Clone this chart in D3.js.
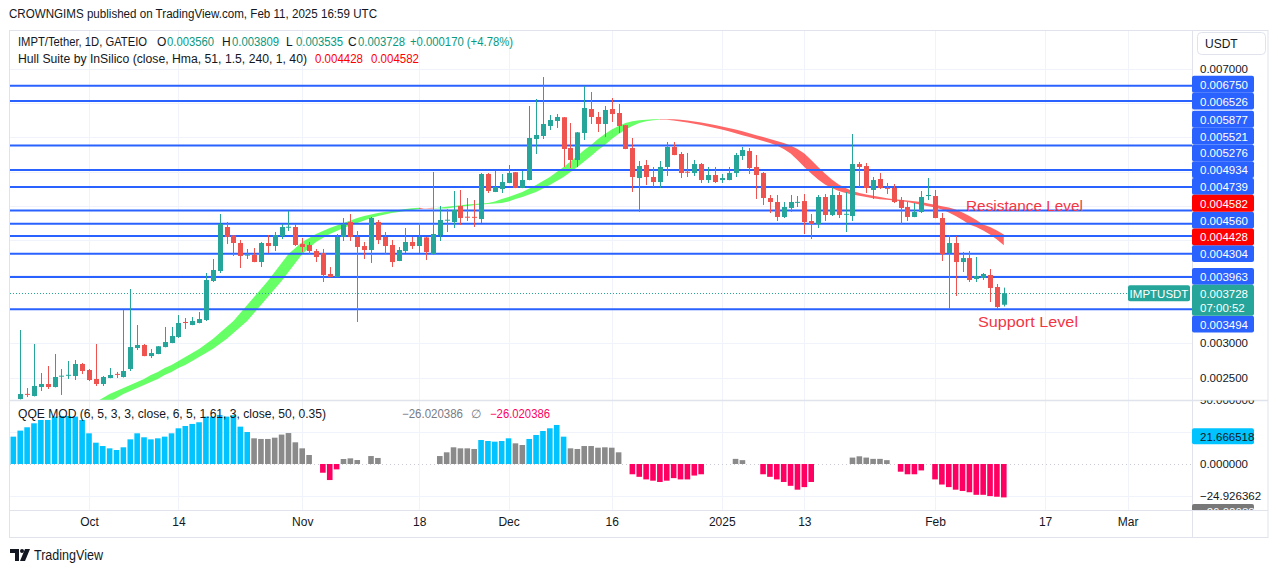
<!DOCTYPE html>
<html><head><meta charset="utf-8">
<script src="https://cdn.jsdelivr.net/npm/d3@7"></script>
<style>
body{margin:0;background:#fff;}
text{font-family:"Liberation Sans",Arial,sans-serif;}
</style></head><body>
<svg id="c" width="1281" height="573"></svg>
<script>
// ---------------- DATA ----------------
const candleStart = "2024-09-21";
const open = [.002187,.002262,.002231,.002362,.002406,.002362,.002522,.002535,.002522,.002697,.002610,.002479,.002406,.002493,.002553,.002508,.002624,.002930,.002974,.002813,.002843,.002944,.003003,.003090,.003309,.003265,.003294,.003338,.003906,.004051,.004692,.004570,.004459,.004280,.004284,.004182,.004459,.004415,.004561,.004688,.004692,.004444,.004430,.004342,.004313,.004008,.003964,.004546,.004765,.004546,.004415,.004357,.004765,.004546,.004430,.004197,.004342,.004474,.004415,.004540,.004299,.004575,.004790,.004765,.004998,.004842,.004840,.004808,.005464,.005202,.005245,.005333,.005490,.005260,.005376,.005973,.006017,.006163,.006236,.006290,.005842,.005668,.006061,.006410,.006294,.006192,.006410,.006352,.006175,.005842,.005405,.005595,.005420,.005347,.005566,.005857,.005755,.005497,.005478,.005609,.005376,.005449,.005376,.005376,.005478,.005726,.005799,.005566,.005478,.005114,.005056,.004838,.004969,.005053,.005070,.004779,.004736,.005129,.004867,.005158,.004878,.004852,.005609,.005580,.005231,.005391,.005262,.005260,.005085,.004983,.004838,.004910,.005143,.005143,.004823,.004313,.004459,.004182,.004240,.003935,.003949,.003993,.003818,.003560];
const high = [.003192,.002347,.002988,.002566,.002668,.002843,.002624,.002741,.002755,.002712,.002624,.002988,.002522,.002639,.002581,.003483,.003789,.003265,.002988,.002915,.002959,.003236,.003236,.003410,.003367,.003381,.003454,.004022,.004226,.004881,.004765,.004575,.004503,.004372,.004386,.004474,.004575,.004619,.004736,.004925,.004736,.004532,.004474,.004372,.004372,.004109,.004590,.004823,.004881,.004634,.004474,.004838,.004794,.004619,.004503,.004401,.004677,.004546,.004750,.004546,.005493,.004998,.004954,.005216,.005231,.005114,.005085,.005478,.005478,.005507,.005464,.005595,.005493,.005507,.006454,.006556,.006876,.006323,.006337,.006294,.006206,.006075,.006745,.006658,.006367,.006454,.006570,.006483,.006177,.005988,.005653,.005668,.005566,.005653,.005930,.005930,.005784,.005770,.005668,.005624,.005566,.005566,.005464,.005566,.005770,.005857,.005842,.005740,.005493,.005158,.005158,.005056,.005158,.005143,.005172,.004881,.005158,.005172,.005274,.005202,.005202,.006046,.005639,.005624,.005420,.005478,.005333,.005318,.005129,.005056,.005041,.005216,.005405,.005231,.004896,.004575,.004561,.004328,.004342,.004255,.004022,.004080,.003862,.003809];
const low = [.002180,.002216,.002225,.002304,.002333,.002355,.002246,.002479,.002464,.002551,.002449,.002377,.002377,.002490,.002493,.002500,.002595,.002901,.002810,.002784,.002840,.002940,.003000,.003076,.003207,.003262,.003290,.003323,.003891,.004022,.004444,.004270,.004095,.004226,.004180,.004109,.004313,.004342,.004517,.004634,.004415,.004328,.004299,.004182,.003891,.003960,.003960,.004488,.004488,.003309,.004226,.004168,.004444,.004299,.004109,.004195,.004313,.004372,.004313,.004211,.004284,.004488,.004619,.004677,.004721,.004779,.004692,.004750,.005187,.005200,.005187,.005330,.005258,.005258,.005373,.005755,.005973,.006104,.006134,.005566,.005551,.005566,.005959,.006192,.006075,.006003,.006221,.006061,.005825,.005202,.004910,.005303,.005274,.005260,.005435,.005738,.005405,.005420,.005435,.005333,.005333,.005333,.005333,.005373,.005420,.005668,.005464,.005100,.005012,.004896,.004779,.004823,.004910,.004983,.004590,.004517,.004677,.004779,.004852,.004823,.004619,.004779,.005274,.005187,.005100,.005245,.005172,.005041,.004736,.004779,.004835,.004896,.005085,.004820,.004197,.003498,.003687,.004037,.003891,.003891,.003920,.003600,.003498,.003535];
const close = [.002260,.002258,.002377,.002406,.002362,.002508,.002527,.002540,.002697,.002595,.002464,.002406,.002508,.002537,.002549,.002595,.002944,.002974,.002813,.002857,.002955,.003017,.003105,.003294,.003294,.003323,.003352,.003920,.004066,.004736,.004546,.004459,.004270,.004290,.004182,.004459,.004415,.004575,.004692,.004696,.004430,.004401,.004342,.004255,.003993,.003964,.004546,.004736,.004546,.004401,.004357,.004823,.004503,.004415,.004182,.004357,.004474,.004415,.004546,.004328,.004590,.004794,.004798,.004940,.004823,.004835,.004836,.005464,.005216,.005274,.005347,.005478,.005260,.005376,.005988,.006032,.006192,.006250,.006294,.005828,.005668,.006070,.006425,.006294,.006192,.006396,.006337,.006163,.005828,.005420,.005580,.005420,.005347,.005566,.005857,.005740,.005478,.005490,.005609,.005376,.005449,.005347,.005405,.005478,.005740,.005813,.005551,.005449,.005114,.005056,.004838,.004983,.005056,.005058,.004765,.004736,.005129,.004867,.005158,.004867,.004884,.005609,.005566,.005260,.005376,.005260,.005255,.005056,.004969,.004838,.004910,.005129,.005158,.004823,.004299,.004459,.004182,.004240,.003920,.003978,.004008,.003804,.003527,.003728];

const hullStart = "2024-09-30";
const hull = [.002042,.002093,.002144,.002202,.002260,.002304,.002347,.002391,.002435,.002479,.002537,.002581,.002639,.002682,.002741,.002799,.002857,.002915,.002988,.003061,.003148,.003236,.003323,.003440,.003556,.003673,.003789,.003906,.004037,.004168,.004299,.004386,.004474,.004532,.004590,.004634,.004677,.004714,.004750,.004787,.004823,.004852,.004874,.004896,.004910,.004925,.004940,.004954,.004964,.004973,.004960,.004963,.004976,.004986,.004998,.005008,.005018,.005027,.005034,.005041,.005063,.005100,.005129,.005165,.005202,.005253,.005304,.005362,.005420,.005493,.005566,.005646,.005726,.005813,.005886,.005973,.006046,.006112,.006163,.006206,.006231,.006246,.006254,.006260,.006262,.006253,.006243,.006228,.006214,.006195,.006177,.006155,.006134,.006112,.006086,.006056,.006027,.006003,.005973,.005944,.005915,.005879,.005828,.005762,.005668,.005566,.005471,.005384,.005311,.005260,.005216,.005187,.005165,.005148,.005129,.005110,.005097,.005088,.005078,.005068,.005056,.005036,.005015,.004993,.004976,.004947,.004903,.004852,.004794,.004728,.004692,.004641,.004582,.004510,.004428];

const qqeStart = "2024-09-20";
const qqe = [21.3,26,28.6,31.7,34.3,34.3,36.9,37.4,37.4,36.9,34.3,23.9,16.6,14,12.2,10.9,13,19.2,23.9,20.8,19.2,20,21.3,23.9,27.8,29.6,31.2,32.5,36.9,36.9,38.2,36.9,38,29.1,24.9,20,19.5,19.5,20.5,22.9,24.1,16.9,12.2,7,0,-6.8,-12.5,-4.2,3.9,4.4,3.1,0,6.2,4.7,0,0,0,0,0,0,0,0,6.2,9.1,13,12.2,12.2,11.7,18.7,17.9,17.4,17.9,20,16.1,14.8,19.5,22.6,25.7,27.8,30.4,21.3,12.2,11.7,14,14,12.7,13,12.7,9.1,0,-8,-10,-12,-13,-14,-13,-11,-12,-12,-9,-8,0,0,0,0,4,3,0,0,-8,-10,-12,-14,-17,-20,-18,-14,0,0,0,0,0,5,6,5,4,4,3,0,-6,-8,-8,-5,0,-12,-16,-18,-20,-21,-22,-24,-24,-25,-25.5,-26.02];
// colour runs of the histogram: [count, state]  b = above threshold, g = neutral, r = below
const qqeRuns = [[35,"b"],[10,"g"],[3,"r"],[20,"g"],[5,"b"],[2,"g"],[6,"b"],[9,"g"],[11,"r"],[8,"g"],[8,"r"],[12,"g"],[16,"r"]];

const levels = [0.006750,0.006526,0.005877,0.005521,0.005276,0.004934,0.004739,0.004560,0.004304,0.003963,0.003494];
const hullLast = [0.004428,0.004582];
const last = {o:0.003560,h:0.003809,l:0.003535,c:0.003728,chg:"+0.000170 (+4.78%)",timer:"07:00:52"};
const priceTicks = [0.0025,0.003,0.0035,0.004,0.0045,0.005,0.0055,0.006,0.0065,0.007];
const qqeTicks = [50,25,0];
const qqeSideLabels = [21.666518,-24.926362,-26.020386];
const timeTicks = [["2024-10-01","Oct"],["2024-10-14","14"],["2024-11-01","Nov"],["2024-11-18","18"],["2024-12-01","Dec"],["2024-12-16","16"],["2025-01-01","2025"],["2025-01-13","13"],["2025-02-01","Feb"],["2025-02-17","17"],["2025-03-01","Mar"]];

// ---------------- LAYOUT ----------------
const svg = d3.select("#c");
const PL=10, PR=1192, PT=31, PB=400, QT=400, QB=510, TB=537, AR=1268;
const UP="#26a69a", DN="#ef5350", BLUE="#2962ff", GRID="#f0f3fa", BORDER="#e0e3eb", TXT="#131722";
const day=(s,i)=>d3.utcDay.offset(new Date(s+"T00:00:00Z"),i);
const x = d3.scaleUtc().domain([new Date("2024-10-01T00:00:00Z"), new Date("2025-03-01T00:00:00Z")]).range([89,1127.6]);
const y = d3.scaleLinear().domain([0.003,0.007]).range([343.2,68.5]);
const yq = d3.scaleLinear().domain([-25,50]).range([496.1,399.8]);

const defs = svg.append("defs");
defs.append("clipPath").attr("id","cm").append("rect").attr("x",PL).attr("y",PT).attr("width",PR-PL).attr("height",PB-PT);
defs.append("clipPath").attr("id","cq").append("rect").attr("x",PL).attr("y",QT).attr("width",PR-PL).attr("height",QB-QT);
defs.append("clipPath").attr("id","cqa").append("rect").attr("x",PR).attr("y",QT+0.5).attr("width",80).attr("height",QB-QT-0.5);

svg.append("rect").attr("width",1281).attr("height",573).attr("fill","#fff");

function txt(g,xx,yy,s,o={}){
  const t=g.append("text").attr("x",xx).attr("y",yy).text(s)
    .attr("font-size",o.size||12).attr("fill",o.fill||TXT)
    .attr("dominant-baseline","central").attr("text-anchor",o.anchor||"start");
  if(o.w){t.attr("textLength",o.w).attr("lengthAdjust","spacingAndGlyphs");}
  if(o.weight)t.attr("font-weight",o.weight);
  return t;
}

// title
txt(svg,9,14,"CROWNGIMS published on TradingView.com, Feb 11, 2025 16:59 UTC",{size:12.5,w:368});

// frame
svg.append("rect").attr("x",9.5).attr("y",30.5).attr("width",AR-9.5).attr("height",TB-30).attr("fill","none").attr("stroke",BORDER);

// grid
const gGrid = svg.append("g");
priceTicks.forEach(p=>gGrid.append("line").attr("x1",PL).attr("x2",PR).attr("y1",Math.round(y(p))+0.5).attr("y2",Math.round(y(p))+0.5).attr("stroke",GRID));
[25,-25].forEach(v=>gGrid.append("line").attr("x1",PL).attr("x2",PR).attr("y1",Math.round(yq(v))+0.5).attr("y2",Math.round(yq(v))+0.5).attr("stroke",GRID));
timeTicks.forEach(([d])=>{const xx=Math.round(x(new Date(d+"T00:00:00Z")))+0.5;
  gGrid.append("line").attr("x1",xx).attr("x2",xx).attr("y1",PT).attr("y2",QB).attr("stroke",GRID);});

// main pane
const gm = svg.append("g").attr("clip-path","url(#cm)");
// hull band
const hd = hull.map((v,k)=>({d:day(hullStart,k),v}));
let runs=[]; 
for(let k=3;k<hd.length;k++){
  const col = hd[k].v>=hd[k-2].v?"g":"r";
  if(runs.length && runs[runs.length-1].c===col) runs[runs.length-1].b=k; else runs.push({a:k,b:k,c:col});
}
runs.forEach(r=>{
  const pts=[];
  for(let j=r.a-1;j<=r.b;j++) pts.push([x(hd[j].d),y(hd[j].v)]);
  for(let j=r.b;j>=r.a-1;j--) pts.push([x(hd[j].d),y(hd[j-2].v)]);
  gm.append("path").attr("d","M"+pts.map(p=>p.join(",")).join("L")+"Z")
    .attr("fill",r.c==="g"?"rgba(0,255,0,0.6)":"rgba(255,0,0,0.6)");
});
// levels
levels.forEach(v=>gm.append("line").attr("x1",PL).attr("x2",PR).attr("y1",y(v)).attr("y2",y(v)).attr("stroke",BLUE).attr("stroke-width",2));
// current price dotted line
gm.append("line").attr("x1",PL).attr("x2",PR).attr("y1",Math.round(y(last.c))+0.5).attr("y2",Math.round(y(last.c))+0.5)
  .attr("stroke",UP).attr("stroke-dasharray","1,2");
// candles
const cd = open.map((o,i)=>({d:day(candleStart,i),o,h:high[i],l:low[i],c:close[i]}));
const gc = gm.append("g");
gc.selectAll("line").data(cd).join("line")
  .attr("x1",d=>Math.round(x(d.d))+0.5).attr("x2",d=>Math.round(x(d.d))+0.5)
  .attr("y1",d=>y(d.h)).attr("y2",d=>y(d.l))
  .attr("stroke",d=>d.c>=d.o?UP:DN).attr("stroke-width",1);
gc.selectAll("rect").data(cd).join("rect")
  .attr("x",d=>Math.round(x(d.d))-2).attr("width",5)
  .attr("y",d=>Math.min(y(d.o),y(d.c))).attr("height",d=>Math.max(1,Math.abs(y(d.o)-y(d.c))))
  .attr("fill",d=>d.c>=d.o?UP:DN);
// annotations
txt(svg,966,205,"Resistance Level",{size:15,fill:"#f23645",w:117});
txt(svg,978,321,"Support Level",{size:15,fill:"#f23645",w:100});

// legends
const lg = svg.append("g");
txt(lg,18,42,"IMPT/Tether, 1D, GATEIO",{w:129});
[["O",157,last.o],["H",222,last.h],["L",286,last.l],["C",348,last.c]].forEach(([k,xx,v])=>{
  txt(lg,xx,42,k); txt(lg,xx+10,42,d3.format(".6f")(v),{fill:"#089981",w:47});
});
txt(lg,410,42,last.chg,{fill:"#089981",w:103});
txt(lg,18,59,"Hull Suite by InSilico (close, Hma, 51, 1.5, 240, 1, 40)",{w:289});
txt(lg,315,59,d3.format(".6f")(hullLast[0]),{fill:"#ff0000",w:48});
txt(lg,371,59,d3.format(".6f")(hullLast[1]),{fill:"#ff0000",w:48});

// QQE pane
const gq = svg.append("g").attr("clip-path","url(#cq)");
gq.append("line").attr("x1",PL).attr("x2",PR).attr("y1",Math.round(yq(0))+0.5).attr("y2",Math.round(yq(0))+0.5)
  .attr("stroke","#c9ccd4").attr("stroke-dasharray","1,3");
const states=[]; qqeRuns.forEach(([n,s])=>{for(let k=0;k<n;k++)states.push(s);});
const qcol={b:"#00c3ff",g:"#8a8a8a",r:"#ff0062"};
const qd = qqe.map((v,k)=>({d:day(qqeStart,k),v,s:states[k]})).filter(d=>d.v!==0);
gq.selectAll("rect").data(qd).join("rect")
  .attr("x",d=>x(d.d)-2.8).attr("width",5.6)
  .attr("y",d=>Math.min(yq(d.v),yq(0))).attr("height",d=>Math.abs(yq(d.v)-yq(0)))
  .attr("fill",d=>qcol[d.s]);
txt(svg,18,414,"QQE MOD (6, 5, 3, 3, close, 6, 5, 1.61, 3, close, 50, 0.35)",{w:308});
txt(svg,402,414,"\u2212"+Math.abs(qqeSideLabels[2]).toFixed(6),{fill:"#787b86",w:61});
txt(svg,471,414,"\u2205",{fill:"#787b86",size:12});
txt(svg,490,414,"\u2212"+Math.abs(qqeSideLabels[2]).toFixed(6),{fill:"#ff0062",w:60});

// separators
svg.append("line").attr("x1",PL).attr("x2",AR).attr("y1",QT+0.5).attr("y2",QT+0.5).attr("stroke",BORDER).attr("stroke-width",1.5);
svg.append("line").attr("x1",PL).attr("x2",AR).attr("y1",QB+0.5).attr("y2",QB+0.5).attr("stroke",BORDER);
svg.append("line").attr("x1",PR+0.5).attr("x2",PR+0.5).attr("y1",30).attr("y2",TB).attr("stroke",BORDER);

// time axis
const tAxis = d3.axisBottom(x).tickValues(timeTicks.map(t=>new Date(t[0]+"T00:00:00Z")))
  .tickFormat((d,i)=>timeTicks[i][1]).tickSize(0).tickPadding(7);
const ta = svg.append("g").attr("transform",`translate(0,${QB})`).call(tAxis);
ta.select(".domain").remove();
ta.selectAll("text").attr("font-size",12).attr("fill",TXT).attr("font-family","Liberation Sans, Arial, sans-serif");

// right axis labels placement
const LH=16.8;
const lab = levels.map(v=>({v,fill:BLUE})).concat(hullLast.map(v=>({v,fill:"#ff0000"})));
const curY=y(last.c), curTop=curY-8.4, curH=31;
let lim=curTop;
lab.filter(l=>l.v>last.c).sort((a,b)=>a.v-b.v).forEach(l=>{l.cy=Math.min(y(l.v),lim-LH/2); lim=l.cy-LH/2;});
lim=curTop+curH;
lab.filter(l=>l.v<last.c).sort((a,b)=>b.v-a.v).forEach(l=>{l.cy=Math.max(y(l.v),lim+LH/2); lim=l.cy+LH/2;});
const boxes = lab.map(l=>[l.cy-LH/2,l.cy+LH/2]).concat([[curTop,curTop+curH]]);
const visTicks = priceTicks.filter(p=>!boxes.some(([a,b])=>y(p)+7>a && y(p)-7<b));
const pAxis = d3.axisRight(y).tickValues(visTicks).tickFormat(d3.format(".6f")).tickSize(0).tickPadding(8);
const pa = svg.append("g").attr("transform",`translate(${PR},0)`).call(pAxis);
pa.select(".domain").remove();
pa.selectAll("text").attr("font-size",11.5).attr("fill",TXT).attr("font-family","Liberation Sans, Arial, sans-serif");

const ga = svg.append("g");
lab.forEach(l=>{
  ga.append("rect").attr("x",PR).attr("y",l.cy-LH/2).attr("width",62).attr("height",LH).attr("rx",2).attr("fill",l.fill);
  txt(ga,PR+8,l.cy+0.5,d3.format(".6f")(l.v),{fill:"#fff",size:11.5});
});
ga.append("rect").attr("x",PR).attr("y",curTop).attr("width",62).attr("height",curH).attr("rx",2).attr("fill",UP);
txt(ga,PR+8,curY+0.5,d3.format(".6f")(last.c),{fill:"#fff",size:11.5});
txt(ga,PR+8,curY+14.5,last.timer,{fill:"#fff",size:11.5});
ga.append("rect").attr("x",1128).attr("y",curY-8).attr("width",62).attr("height",16).attr("rx",2).attr("fill",UP);
txt(ga,1159,curY+0.5,"IMPTUSDT",{fill:"#fff",size:11.5,anchor:"middle"});

// QQE axis (ticks hidden where a value label covers them)
const gqa = svg.append("g").attr("clip-path","url(#cqa)");
const q1=yq(qqeSideLabels[0]);
const qVis = qqeTicks.filter(v=>Math.abs(yq(v)-q1)>14);
const qAxis = d3.axisRight(yq).tickValues(qVis).tickFormat(d3.format(".6f")).tickSize(0).tickPadding(8);
const qa = gqa.append("g").attr("transform",`translate(${PR},0)`).call(qAxis);
qa.select(".domain").remove();
qa.selectAll("text").attr("font-size",11.5).attr("fill",TXT).attr("font-family","Liberation Sans, Arial, sans-serif");
gqa.append("rect").attr("x",PR).attr("y",q1-8).attr("width",62).attr("height",16).attr("rx",2).attr("fill","#00c3ff");
txt(gqa,PR+8,q1+0.5,qqeSideLabels[0].toFixed(6),{size:11.5});
txt(gqa,PR+8,yq(qqeSideLabels[1]),"\u2212"+Math.abs(qqeSideLabels[1]).toFixed(6),{size:11.5});
gqa.append("rect").attr("x",PR).attr("y",yq(qqeSideLabels[1])+8).attr("width",62).attr("height",16).attr("rx",2).attr("fill","#787878");
txt(gqa,PR+8,yq(qqeSideLabels[1])+16,"\u2212"+Math.abs(qqeSideLabels[2]).toFixed(6),{size:11.5,fill:"#fff"});

// USDT button
svg.append("rect").attr("x",1197.5).attr("y",32.5).attr("width",68).attr("height",22).attr("rx",4).attr("fill","#fff").attr("stroke",BORDER);
txt(svg,1205,44,"USDT",{size:12});

// footer logo
const fl = svg.append("g").attr("fill",TXT);
fl.append("path").attr("d","M10,549H19V561H15V553H10Z");
fl.append("circle").attr("cx",22).attr("cy",551).attr("r",2);
fl.append("path").attr("d","M25,549H30L25,561H20Z");
txt(svg,34,555,"TradingView",{size:14,w:69});
</script></body></html>
